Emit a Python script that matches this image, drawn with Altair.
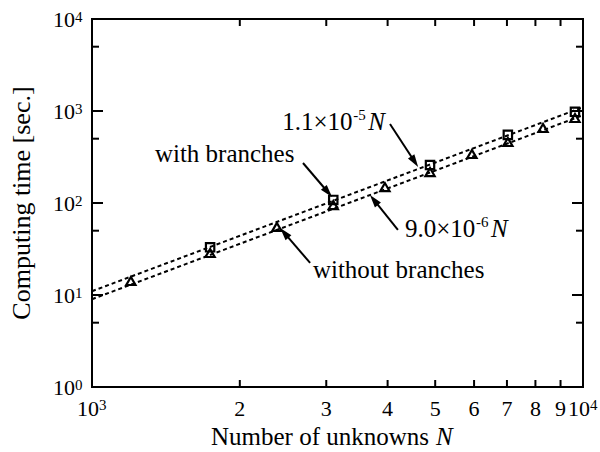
import math
import altair as alt
import pandas as pd

# ---- measured computing times --------------------------------------------
N_with = [1740, 3100, 4880, 7030, 9630]
t_with = [33, 108, 259, 550, 980]

N_without = [1200, 1740, 2380, 3100, 3950, 4880, 5940, 7030, 8290, 9630]
t_without = [14.2, 28.6, 55, 95, 149, 217, 341, 460, 653, 839]

# fitted lines t = c * N^2, evaluated at both ends of the N axis
fit_N = [1000, 10000]
fit_with = [11, 1100]       # c = 1.1e-5
fit_without = [9, 900]      # c = 9.0e-6

# ---- axis ticks / labels --------------------------------------------------
x_minor = [2000, 3000, 4000, 5000, 6000, 7000, 8000, 9000]
x_minor_labels = ["2", "3", "4", "5", "6", "7", "8", "9"]
x_decades = [1000, 10000]
x_decade_exps = ["3", "4"]
y_major = [10, 100, 1000]
y_minor = [5, 50, 500, 5000]
y_decades = [1, 10, 100, 1000, 10000]
y_decade_exps = ["0", "1", "2", "3", "4"]

# ---- annotations (anchor in data coordinates) -----------------------------
fit_labels = [
    {"N": 2440, "t": 621, "mant": "1.1\u00d710", "exp": "-5"},
    {"N": 4340, "t": 42.7, "mant": "9.0\u00d710", "exp": "-6"},
]
series_labels = [
    {"N": 1343, "t": 279, "text": "with branches"},
    {"N": 2818, "t": 15.3, "text": "without branches"},
]
# arrows: tail -> tip
arrow_tail_N = [4045, 2690, 4198, 2781]
arrow_tail_t = [722, 272, 50.9, 22.3]
arrow_tip_N = [4616, 3083, 3682, 2417]
arrow_tip_t = [246, 116, 122, 53.5]

W, H = 491, 368
FONT = "Liberation Serif"
TICK_FS, EXP_FS, ANN_FS = 22, 15, 25
YTITLE_FS, XTITLE_FS = 26, 25

xs = alt.Scale(type="log", domain=[1000, 10000])
ys = alt.Scale(type="log", domain=[1, 10000])


def X(field="N"):
    return alt.X(f"{field}:Q", scale=xs, axis=None)


def Y(field="t"):
    return alt.Y(f"{field}:Q", scale=ys, axis=None)


def px(n):
    return W * math.log10(n / 1000.0)


def py(t):
    return H * (1 - math.log10(t) / 4.0)


# ---- fitted dashed lines ---------------------------------------------------
fit_df = pd.DataFrame(
    {"N": fit_N * 2, "t": fit_with + fit_without,
     "series": ["with"] * 2 + ["without"] * 2}
)
lines = alt.Chart(fit_df).mark_line(
    color="black", strokeWidth=2, strokeDash=[4, 3]
).encode(x=X(), y=Y(), detail="series:N")

# ---- data points -----------------------------------------------------------
sq = alt.Chart(pd.DataFrame({"N": N_with, "t": t_with})).mark_point(
    shape="square", size=70, filled=False, color="black", strokeWidth=2.2, opacity=1
).encode(x=X(), y=Y())
tri = alt.Chart(pd.DataFrame({"N": N_without, "t": t_without})).mark_point(
    shape="triangle-up", size=85, filled=False, color="black", strokeWidth=2.2, opacity=1
).encode(x=X(), y=Y())

# ---- inward ticks on all four sides -------------------------------------
xt_df = pd.DataFrame({"N": x_minor})
x_bottom = alt.Chart(xt_df).mark_rule(color="black", strokeWidth=2).encode(
    x=X(), y=alt.value(H), y2=alt.value(H - 7))
x_top = alt.Chart(xt_df).mark_rule(color="black", strokeWidth=2).encode(
    x=X(), y=alt.value(0), y2=alt.value(7))

ymaj_df = pd.DataFrame({"t": y_major})
ymin_df = pd.DataFrame({"t": y_minor})
y_left_maj = alt.Chart(ymaj_df).mark_rule(color="black", strokeWidth=2).encode(
    y=Y(), x=alt.value(0), x2=alt.value(11))
y_right_maj = alt.Chart(ymaj_df).mark_rule(color="black", strokeWidth=2).encode(
    y=Y(), x=alt.value(W), x2=alt.value(W - 11))
y_left_min = alt.Chart(ymin_df).mark_rule(color="black", strokeWidth=2).encode(
    y=Y(), x=alt.value(0), x2=alt.value(7))
y_right_min = alt.Chart(ymin_df).mark_rule(color="black", strokeWidth=2).encode(
    y=Y(), x=alt.value(W), x2=alt.value(W - 7))

# ---- tick labels -------------------------------------------------------------
XLAB_Y = H + 29
x_lab = alt.Chart(pd.DataFrame({"N": x_minor, "label": x_minor_labels})).mark_text(
    font=FONT, fontSize=TICK_FS, align="center", baseline="alphabetic", color="black"
).encode(x=X(), y=alt.value(XLAB_Y), text="label:N")

xd_df = pd.DataFrame({"N": x_decades, "exp": x_decade_exps, "base": ["10", "10"]})
x_dec_base = alt.Chart(xd_df).mark_text(
    font=FONT, fontSize=TICK_FS, align="right", baseline="alphabetic", dx=7, color="black"
).encode(x=X(), y=alt.value(XLAB_Y), text="base:N")
x_dec_exp = alt.Chart(xd_df).mark_text(
    font=FONT, fontSize=EXP_FS, align="left", baseline="alphabetic", dx=7, color="black"
).encode(x=X(), y=alt.value(XLAB_Y - 6), text="exp:N")

yd_df = pd.DataFrame({"t": y_decades, "exp": y_decade_exps, "base": ["10"] * 5})
y_dec_base = alt.Chart(yd_df).mark_text(
    font=FONT, fontSize=TICK_FS, align="right", baseline="alphabetic", dy=8, color="black"
).encode(y=Y(), x=alt.value(-17), text="base:N")
y_dec_exp = alt.Chart(yd_df).mark_text(
    font=FONT, fontSize=EXP_FS, align="left", baseline="alphabetic", dy=3, color="black"
).encode(y=Y(), x=alt.value(-17), text="exp:N")

# ---- axis titles -------------------------------------------------------------
title_df = pd.DataFrame({"a": [0]})
y_title = alt.Chart(title_df).mark_text(
    font=FONT, fontSize=YTITLE_FS, angle=270, align="center", baseline="middle",
    color="black", text="Computing time [sec.]"
).encode(x=alt.value(-70), y=alt.value(H / 2))
x_title = alt.Chart(title_df).mark_text(
    font=FONT, fontSize=XTITLE_FS, align="right", baseline="alphabetic",
    color="black", text="Number of unknowns"
).encode(x=alt.value(337), y=alt.value(H + 58))
x_title_N = alt.Chart(title_df).mark_text(
    font=FONT, fontSize=XTITLE_FS, fontStyle="italic", align="left", baseline="alphabetic",
    color="black", text="N"
).encode(x=alt.value(344), y=alt.value(H + 58))

# ---- annotations -------------------------------------------------------------
fl_df = pd.DataFrame(fit_labels)
ann_mant = alt.Chart(fl_df).mark_text(
    font=FONT, fontSize=ANN_FS, align="left", baseline="alphabetic", color="black"
).encode(x=X(), y=Y(), text="mant:N")
ann_exp = alt.Chart(fl_df).mark_text(
    font=FONT, fontSize=EXP_FS, align="left", baseline="alphabetic", color="black",
    dx=71, dy=-10
).encode(x=X(), y=Y(), text="exp:N")
ann_N = alt.Chart(fl_df).mark_text(
    font=FONT, fontSize=ANN_FS, fontStyle="italic", align="left", baseline="alphabetic",
    color="black", dx=86, text="N"
).encode(x=X(), y=Y())
ann_series = alt.Chart(pd.DataFrame(series_labels)).mark_text(
    font=FONT, fontSize=ANN_FS, align="left", baseline="alphabetic", color="black"
).encode(x=X(), y=Y(), text="text:N")

# ---- arrows --------------------------------------------------------------------
shaft_rows, head_rows = [], []
for n0, t0, n1, t1 in zip(arrow_tail_N, arrow_tail_t, arrow_tip_N, arrow_tip_t):
    dxp, dyp = px(n1) - px(n0), py(t1) - py(t0)
    length = math.hypot(dxp, dyp)
    f = 1 - 6.0 / length
    # shaft stops inside the head (straight in log-log space)
    ne = 10 ** (math.log10(n0) + f * (math.log10(n1) - math.log10(n0)))
    te = 10 ** (math.log10(t0) + f * (math.log10(t1) - math.log10(t0)))
    shaft_rows.append({"N": n0, "t": t0, "N2": ne, "t2": te})
    head_rows.append({"N": n1, "t": t1,
                      "angle": math.degrees(math.atan2(dyp, dxp)) % 360})

shafts = alt.Chart(pd.DataFrame(shaft_rows)).mark_rule(
    color="black", strokeWidth=2
).encode(x=X(), y=Y(), x2="N2:Q", y2="t2:Q")
heads = alt.Chart(pd.DataFrame(head_rows)).mark_point(
    shape="M0,0L-1,-0.3L-1,0.3Z", size=650, filled=True, color="black", opacity=1,
    strokeWidth=0
).encode(x=X(), y=Y(), angle=alt.Angle("angle:Q", scale=None))

chart = alt.layer(
    lines, sq, tri,
    x_bottom, x_top, y_left_maj, y_right_maj, y_left_min, y_right_min,
    x_lab, x_dec_base, x_dec_exp, y_dec_base, y_dec_exp,
    y_title, x_title, x_title_N,
    ann_mant, ann_exp, ann_N, ann_series,
    shafts, heads,
).properties(
    width=W, height=H,
    autosize=alt.AutoSizeParams(type="none"),
    padding={"left": 92, "top": 19, "right": 17, "bottom": 65},
    background="white",
).configure_view(stroke="black", strokeWidth=2)

chart.save("out.html", embed_options={"renderer": "svg", "actions": False})
